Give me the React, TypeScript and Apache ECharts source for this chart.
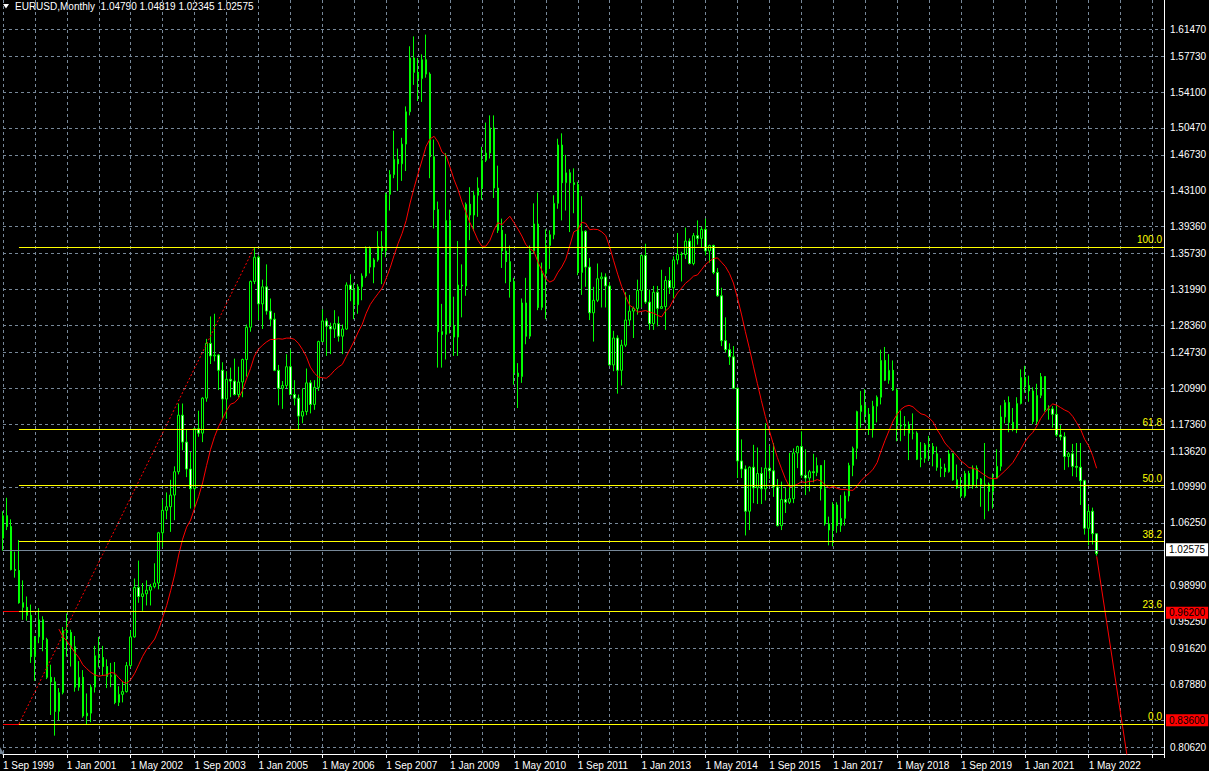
import React, { useEffect, useRef } from 'react';
import * as echarts from 'echarts';

// Monthly bars, first bar = Sep 1999, last bar = Jul 2022
const OPEN = [
  1.043, 1.068, 1.056, 1.008,
  1.007, 0.971, 0.966, 0.957, 0.911, 0.933, 0.952, 0.930, 0.888, 0.883, 0.850, 0.871,
  0.940, 0.938, 0.922, 0.877, 0.888, 0.845, 0.848, 0.877, 0.912, 0.910, 0.900, 0.889,
  0.890, 0.860, 0.869, 0.872, 0.901, 0.933, 0.988, 0.978, 0.981, 0.985, 0.989, 0.993,
  1.049, 1.074, 1.078, 1.091, 1.117, 1.180, 1.150, 1.120, 1.098, 1.165, 1.160, 1.199,
  1.260, 1.246, 1.247, 1.230, 1.198, 1.220, 1.218, 1.203, 1.217, 1.242, 1.278, 1.329,
  1.356, 1.304, 1.323, 1.296, 1.287, 1.230, 1.210, 1.213, 1.234, 1.203, 1.199, 1.179,
  1.184, 1.216, 1.192, 1.211, 1.262, 1.285, 1.279, 1.276, 1.282, 1.268, 1.276, 1.325,
  1.320, 1.303, 1.323, 1.335, 1.366, 1.345, 1.353, 1.368, 1.363, 1.426, 1.448, 1.465,
  1.460, 1.482, 1.518, 1.578, 1.562, 1.555, 1.576, 1.560, 1.468, 1.409, 1.273, 1.270,
  1.397, 1.280, 1.267, 1.325, 1.324, 1.415, 1.403, 1.425, 1.433, 1.464, 1.472, 1.500,
  1.433, 1.386, 1.363, 1.351, 1.329, 1.227, 1.223, 1.305, 1.268, 1.363, 1.393, 1.300,
  1.338, 1.369, 1.381, 1.416, 1.481, 1.439, 1.450, 1.439, 1.437, 1.339, 1.385, 1.345,
  1.294, 1.308, 1.332, 1.334, 1.324, 1.236, 1.266, 1.230, 1.258, 1.286, 1.296, 1.299,
  1.319, 1.358, 1.306, 1.282, 1.317, 1.299, 1.301, 1.330, 1.322, 1.353, 1.359, 1.359,
  1.374, 1.349, 1.380, 1.377, 1.387, 1.363, 1.369, 1.339, 1.313, 1.263, 1.253, 1.245,
  1.210, 1.129, 1.120, 1.073, 1.122, 1.099, 1.115, 1.098, 1.121, 1.118, 1.100, 1.057,
  1.086, 1.083, 1.087, 1.138, 1.145, 1.113, 1.110, 1.117, 1.116, 1.124, 1.098, 1.059,
  1.052, 1.080, 1.057, 1.065, 1.090, 1.124, 1.143, 1.184, 1.191, 1.181, 1.164, 1.190,
  1.200, 1.241, 1.219, 1.230, 1.208, 1.169, 1.168, 1.169, 1.160, 1.160, 1.131, 1.132,
  1.147, 1.145, 1.137, 1.122, 1.121, 1.117, 1.137, 1.108, 1.099, 1.090, 1.115, 1.102,
  1.121, 1.109, 1.103, 1.103, 1.095, 1.110, 1.123, 1.178, 1.194, 1.172, 1.165, 1.193,
  1.222, 1.213, 1.207, 1.173, 1.202, 1.223, 1.186, 1.187, 1.181, 1.158, 1.156, 1.134,
  1.137, 1.123, 1.122, 1.107, 1.054, 1.073, 1.0479,
];
const HIGH = [
  1.073, 1.088, 1.064, 1.028,
  1.041, 0.996, 0.978, 0.969, 0.934, 0.965, 0.956, 0.932, 0.902, 0.888, 0.876, 0.944,
  0.959, 0.941, 0.934, 0.906, 0.896, 0.870, 0.880, 0.923, 0.933, 0.923, 0.908, 0.904,
  0.905, 0.878, 0.884, 0.905, 0.940, 0.998, 1.018, 0.993, 0.996, 0.992, 1.015, 1.050,
  1.086, 1.094, 1.108, 1.123, 1.193, 1.193, 1.164, 1.139, 1.165, 1.185, 1.200, 1.265,
  1.290, 1.293, 1.248, 1.239, 1.229, 1.233, 1.243, 1.234, 1.243, 1.281, 1.330, 1.367,
  1.358, 1.331, 1.348, 1.310, 1.294, 1.236, 1.218, 1.248, 1.253, 1.219, 1.203, 1.210,
  1.232, 1.219, 1.219, 1.263, 1.298, 1.288, 1.283, 1.297, 1.290, 1.281, 1.328, 1.337,
  1.327, 1.326, 1.338, 1.368, 1.368, 1.355, 1.385, 1.385, 1.428, 1.453, 1.497, 1.477,
  1.489, 1.524, 1.591, 1.602, 1.578, 1.582, 1.604, 1.562, 1.487, 1.418, 1.304, 1.472,
  1.409, 1.312, 1.374, 1.348, 1.417, 1.434, 1.430, 1.445, 1.479, 1.506, 1.514, 1.514,
  1.458, 1.399, 1.382, 1.369, 1.333, 1.238, 1.310, 1.333, 1.369, 1.416, 1.428, 1.350,
  1.387, 1.386, 1.425, 1.488, 1.494, 1.470, 1.454, 1.455, 1.440, 1.424, 1.386, 1.355,
  1.323, 1.349, 1.339, 1.338, 1.328, 1.274, 1.269, 1.264, 1.317, 1.314, 1.301, 1.331,
  1.359, 1.371, 1.320, 1.324, 1.324, 1.342, 1.335, 1.345, 1.357, 1.383, 1.362, 1.389,
  1.377, 1.383, 1.397, 1.390, 1.399, 1.370, 1.370, 1.344, 1.322, 1.289, 1.260, 1.257,
  1.211, 1.153, 1.124, 1.123, 1.147, 1.144, 1.122, 1.171, 1.146, 1.149, 1.109, 1.106,
  1.099, 1.138, 1.143, 1.146, 1.162, 1.142, 1.119, 1.137, 1.133, 1.124, 1.130, 1.067,
  1.083, 1.083, 1.091, 1.095, 1.127, 1.145, 1.185, 1.207, 1.209, 1.188, 1.196, 1.202,
  1.253, 1.256, 1.248, 1.241, 1.210, 1.185, 1.179, 1.173, 1.182, 1.162, 1.150, 1.149,
  1.157, 1.149, 1.145, 1.132, 1.126, 1.141, 1.138, 1.125, 1.111, 1.118, 1.118, 1.124,
  1.124, 1.110, 1.149, 1.105, 1.115, 1.142, 1.191, 1.197, 1.201, 1.188, 1.200, 1.231,
  1.235, 1.224, 1.211, 1.215, 1.227, 1.223, 1.191, 1.190, 1.191, 1.169, 1.161, 1.139,
  1.148, 1.149, 1.149, 1.108, 1.079, 1.077, 1.04819,
];
const LOW = [
  1.029, 1.052, 1.007, 0.999,
  0.970, 0.952, 0.951, 0.904, 0.884, 0.926, 0.917, 0.886, 0.846, 0.823, 0.840, 0.869,
  0.911, 0.900, 0.872, 0.873, 0.843, 0.835, 0.838, 0.871, 0.899, 0.890, 0.876, 0.877,
  0.858, 0.856, 0.860, 0.871, 0.899, 0.932, 0.971, 0.962, 0.968, 0.968, 0.987, 0.986,
  1.033, 1.064, 1.050, 1.063, 1.114, 1.141, 1.111, 1.076, 1.077, 1.156, 1.150, 1.195,
  1.237, 1.240, 1.208, 1.176, 1.176, 1.200, 1.202, 1.200, 1.200, 1.223, 1.273, 1.326,
  1.286, 1.276, 1.292, 1.279, 1.229, 1.191, 1.187, 1.210, 1.202, 1.191, 1.164, 1.171,
  1.180, 1.182, 1.186, 1.207, 1.262, 1.246, 1.248, 1.266, 1.262, 1.248, 1.275, 1.307,
  1.287, 1.293, 1.308, 1.333, 1.338, 1.327, 1.351, 1.326, 1.356, 1.408, 1.444, 1.430,
  1.441, 1.452, 1.514, 1.548, 1.530, 1.529, 1.556, 1.444, 1.388, 1.233, 1.233, 1.242,
  1.271, 1.246, 1.246, 1.289, 1.313, 1.375, 1.385, 1.401, 1.420, 1.462, 1.466, 1.422,
  1.383, 1.344, 1.327, 1.311, 1.214, 1.188, 1.216, 1.259, 1.265, 1.360, 1.297, 1.297,
  1.287, 1.343, 1.376, 1.410, 1.397, 1.408, 1.384, 1.405, 1.336, 1.314, 1.323, 1.286,
  1.262, 1.306, 1.300, 1.300, 1.235, 1.229, 1.204, 1.213, 1.256, 1.280, 1.266, 1.292,
  1.300, 1.304, 1.275, 1.275, 1.279, 1.299, 1.275, 1.315, 1.310, 1.348, 1.329, 1.354,
  1.348, 1.347, 1.370, 1.367, 1.358, 1.350, 1.337, 1.312, 1.257, 1.250, 1.236, 1.209,
  1.110, 1.110, 1.046, 1.052, 1.082, 1.081, 1.081, 1.085, 1.109, 1.089, 1.056, 1.052,
  1.071, 1.081, 1.082, 1.121, 1.110, 1.091, 1.095, 1.105, 1.112, 1.085, 1.057, 1.035,
  1.034, 1.049, 1.050, 1.057, 1.084, 1.112, 1.131, 1.166, 1.172, 1.158, 1.155, 1.172,
  1.192, 1.218, 1.215, 1.207, 1.151, 1.151, 1.157, 1.130, 1.153, 1.130, 1.122, 1.127,
  1.129, 1.123, 1.118, 1.111, 1.111, 1.116, 1.107, 1.098, 1.088, 1.088, 1.098, 1.098,
  1.099, 1.078, 1.064, 1.073, 1.076, 1.110, 1.118, 1.171, 1.161, 1.162, 1.160, 1.192,
  1.205, 1.195, 1.170, 1.170, 1.199, 1.184, 1.175, 1.166, 1.156, 1.152, 1.119, 1.122,
  1.112, 1.111, 1.080, 1.047, 1.035, 1.036, 1.02345,
];
const CLOSE = [
  1.068, 1.056, 1.008, 1.007,
  0.971, 0.966, 0.957, 0.911, 0.933, 0.952, 0.930, 0.888, 0.883, 0.850, 0.871, 0.940,
  0.938, 0.922, 0.877, 0.888, 0.845, 0.848, 0.877, 0.912, 0.910, 0.900, 0.889, 0.890,
  0.860, 0.869, 0.872, 0.901, 0.933, 0.988, 0.978, 0.981, 0.985, 0.989, 0.993, 1.049,
  1.074, 1.078, 1.091, 1.117, 1.180, 1.150, 1.120, 1.098, 1.165, 1.160, 1.199, 1.260,
  1.246, 1.247, 1.230, 1.198, 1.220, 1.218, 1.203, 1.217, 1.242, 1.278, 1.329, 1.356,
  1.304, 1.323, 1.296, 1.287, 1.230, 1.210, 1.213, 1.234, 1.203, 1.199, 1.179, 1.184,
  1.216, 1.192, 1.211, 1.262, 1.285, 1.279, 1.276, 1.282, 1.268, 1.276, 1.325, 1.320,
  1.303, 1.323, 1.335, 1.366, 1.345, 1.353, 1.368, 1.363, 1.426, 1.448, 1.465, 1.460,
  1.482, 1.518, 1.578, 1.562, 1.555, 1.576, 1.560, 1.468, 1.409, 1.273, 1.270, 1.397,
  1.280, 1.267, 1.325, 1.324, 1.415, 1.403, 1.425, 1.433, 1.464, 1.472, 1.500, 1.433,
  1.386, 1.363, 1.351, 1.329, 1.227, 1.223, 1.305, 1.268, 1.363, 1.393, 1.300, 1.338,
  1.369, 1.381, 1.416, 1.481, 1.439, 1.450, 1.439, 1.437, 1.339, 1.385, 1.345, 1.294,
  1.308, 1.332, 1.334, 1.324, 1.236, 1.266, 1.230, 1.258, 1.286, 1.296, 1.299, 1.319,
  1.358, 1.306, 1.282, 1.317, 1.299, 1.301, 1.330, 1.322, 1.353, 1.359, 1.359, 1.374,
  1.349, 1.380, 1.377, 1.387, 1.363, 1.369, 1.339, 1.313, 1.263, 1.253, 1.245, 1.210,
  1.129, 1.120, 1.073, 1.122, 1.099, 1.115, 1.098, 1.121, 1.118, 1.100, 1.057, 1.086,
  1.083, 1.087, 1.138, 1.145, 1.113, 1.110, 1.117, 1.116, 1.124, 1.098, 1.059, 1.052,
  1.080, 1.057, 1.065, 1.090, 1.124, 1.143, 1.184, 1.191, 1.181, 1.164, 1.190, 1.200,
  1.241, 1.219, 1.230, 1.208, 1.169, 1.168, 1.169, 1.160, 1.160, 1.131, 1.132, 1.147,
  1.145, 1.137, 1.122, 1.121, 1.117, 1.137, 1.108, 1.099, 1.090, 1.115, 1.102, 1.121,
  1.109, 1.103, 1.103, 1.095, 1.110, 1.123, 1.178, 1.194, 1.172, 1.165, 1.193, 1.222,
  1.213, 1.207, 1.173, 1.202, 1.223, 1.186, 1.187, 1.181, 1.158, 1.156, 1.134, 1.137,
  1.123, 1.122, 1.107, 1.054, 1.073, 1.048, 1.02575,
];

// Axis labels
const X_TICK_LABELS = [
  '1 Sep 1999', '1 Jan 2001', '1 May 2002', '1 Sep 2003', '1 Jan 2005', '1 May 2006',
  '1 Sep 2007', '1 Jan 2009', '1 May 2010', '1 Sep 2011', '1 Jan 2013', '1 May 2014',
  '1 Sep 2015', '1 Jan 2017', '1 May 2018', '1 Sep 2019', '1 Jan 2021', '1 May 2022',
];
const Y_TICK_VALUES = [
  1.6147, 1.5773, 1.541, 1.5047, 1.4673, 1.431, 1.3936, 1.3573, 1.3199, 1.2836, 1.2473,
  1.2099, 1.1736, 1.1362, 1.0999, 1.0625, 1.0262, 0.9899, 0.9525, 0.9162, 0.8788, 0.8425,
  0.8062,
];

// Objects on the chart
const MA_PERIOD = 14;
const FIB_LEVELS = [100.0, 61.8, 50.0, 38.2, 23.6, 0.0];
const FIB_LOW = 0.836;
const FIB_HIGH = 1.3674;
const FIB_START_BAR = 4;
const FIB_END_BAR = 63;
const RED_LEVELS = [0.962, 0.836];
const BID = 1.02575;
const TRENDLINE = [[274, 1.0227], [282, 0.7894]];
const HEADER = 'EURUSD,Monthly  1.04790 1.04819 1.02345 1.02575';

const X_LABEL_STEP = 16;
const X_GRID_STEP = 8;
const X_MIN = 0;
const X_MAX = 290.875;
const Y_MIN = 0.80253;
const Y_MAX = 1.64255;

const FONT = '"Liberation Sans", Arial, sans-serif';
const GRID_COLOR = '#778899';
const LIME = '#00ff00';

export default function App() {
  const ref = useRef<HTMLDivElement>(null);

  useEffect(() => {
    if (!ref.current) return;
    const chart = echarts.init(ref.current, null, { renderer: 'svg' });

    const candles = OPEN.map((o, i) => [i, o, CLOSE[i], LOW[i], HIGH[i]]);
    const ma: number[][] = [];
    for (let i = MA_PERIOD; i < CLOSE.length; i++) {
      let s = 0;
      for (let k = i - MA_PERIOD + 1; k <= i; k++) s += CLOSE[k];
      ma.push([i, s / MA_PERIOD]);
    }
    const fibPrice = (lv: number) => FIB_LOW + (lv / 100) * (FIB_HIGH - FIB_LOW);

    const helper = (name: string, z: number, markLine: any) => ({
      name,
      type: 'line',
      xAxisIndex: 0,
      yAxisIndex: 0,
      z,
      silent: true,
      data: [[0, CLOSE[0]]],
      symbol: 'none',
      lineStyle: { opacity: 0 },
      markLine: { silent: true, symbol: ['none', 'none'], animation: false, z, ...markLine },
    });

    const labelText = { fontFamily: FONT, fontSize: 10 };

    chart.setOption({
      animation: false,
      backgroundColor: '#000000',
      grid: { left: 0.5, top: 0, width: 1163.5, height: 754, containLabel: false },
      xAxis: [
        {
          type: 'value',
          min: X_MIN,
          max: X_MAX,
          interval: X_GRID_STEP,
          axisLine: { show: false },
          axisTick: { show: false },
          axisLabel: { show: false },
          splitLine: { show: true, lineStyle: { color: GRID_COLOR, type: [3, 3], width: 1 } },
        },
        {
          type: 'value',
          position: 'bottom',
          min: X_MIN,
          max: X_MAX,
          interval: X_LABEL_STEP,
          axisLine: { show: true, onZero: false, lineStyle: { color: '#ffffff', width: 1 } },
          axisTick: { show: true, length: 4, lineStyle: { color: '#ffffff' } },
          splitLine: { show: false },
          axisLabel: {
            show: true,
            color: '#ffffff',
            ...labelText,
            align: 'left',
            margin: 6,
            formatter: (v: number) => {
              const k = Math.round(v / X_LABEL_STEP);
              if (Math.abs(v / X_LABEL_STEP - k) > 1e-6) return '';
              return X_TICK_LABELS[k] ?? '';
            },
          },
        },
      ],
      yAxis: {
        type: 'value',
        position: 'right',
        min: Y_MIN,
        max: Y_MAX,
        axisLine: { show: true, onZero: false, lineStyle: { color: '#ffffff', width: 1 } },
        axisTick: { show: false },
        axisLabel: { show: false },
        splitLine: { show: false },
      },
      graphic: [
        {
          type: 'polygon',
          shape: { points: [[3, 4], [9, 4], [6, 8.5]] },
          style: { fill: '#ffffff' },
        },
        {
          type: 'text',
          x: 15,
          y: 1,
          style: { text: HEADER, fill: '#ffffff', font: `10px ${FONT}`, verticalAlign: 'top' },
        },
        {
          type: 'polygon',
          shape: { points: [[0, 747], [4, 754], [0, 754]] },
          style: { fill: GRID_COLOR },
        },
      ],
      series: [
        helper('grid', 1, {
          lineStyle: { color: GRID_COLOR, type: [3, 3], width: 1 },
          label: { show: true, position: 'end', distance: 6, color: '#ffffff', ...labelText, formatter: '{b}' },
          data: Y_TICK_VALUES.map((v) => ({ yAxis: v, name: v.toFixed(5) })),
        }),
        {
          name: 'EURUSD',
          type: 'candlestick',
          xAxisIndex: 0,
          yAxisIndex: 0,
          z: 3,
          barWidth: 2,
          encode: { x: 0, y: [1, 2, 3, 4] },
          data: candles,
          itemStyle: {
            color: '#000000',
            color0: '#ffffff',
            borderColor: LIME,
            borderColor0: LIME,
            borderColorDoji: LIME,
            borderWidth: 1,
          },
        },
        {
          name: 'MA',
          type: 'line',
          z: 4,
          data: ma,
          symbol: 'none',
          silent: true,
          lineStyle: { color: '#ff0000', width: 1 },
        },
        {
          name: 'FiboTrend',
          type: 'line',
          z: 4,
          data: [[FIB_START_BAR, FIB_LOW], [FIB_END_BAR, FIB_HIGH]],
          symbol: 'none',
          silent: true,
          lineStyle: { color: '#ff0000', width: 1, type: [2, 2] },
        },
        {
          name: 'Trendline',
          type: 'line',
          z: 4,
          data: TRENDLINE,
          symbol: 'none',
          silent: true,
          lineStyle: { color: '#ff0000', width: 1 },
        },
        // red horizontal lines: visible only left of the Fibonacci object
        helper('redLines', 5, {
          lineStyle: { color: '#ff0000', type: 'solid', width: 1 },
          label: { show: false },
          data: RED_LEVELS.map((v) => [{ coord: [X_MIN, v] }, { coord: [FIB_START_BAR, v] }]),
        }),
        helper('fib', 6, {
          lineStyle: { color: '#ffff00', type: 'solid', width: 1 },
          label: {
            show: true,
            position: 'insideEndTop',
            distance: [2, 2],
            color: '#ffff00',
            ...labelText,
            formatter: '{b}',
          },
          data: FIB_LEVELS.map((lv) => [
            { coord: [FIB_START_BAR, fibPrice(lv)], name: lv.toFixed(1) },
            { coord: [X_MAX, fibPrice(lv)] },
          ]),
        }),
        // price tags of the red lines on the price scale
        helper('redTags', 7, {
          lineStyle: { color: 'rgba(0,0,0,0)', type: 'solid', width: 1 },
          label: {
            show: true,
            position: 'end',
            distance: 2,
            color: '#000000',
            backgroundColor: '#ff0000',
            padding: [1, 3, 1, 3],
            ...labelText,
            formatter: '{b}',
          },
          data: RED_LEVELS.map((v) => ({ yAxis: v, name: v.toFixed(5) })),
        }),
        helper('bid', 8, {
          lineStyle: { color: GRID_COLOR, type: 'solid', width: 1 },
          label: {
            show: true,
            position: 'end',
            distance: 2,
            color: '#000000',
            backgroundColor: '#ffffff',
            padding: [2, 3, 1, 3],
            ...labelText,
            formatter: '{b}',
          },
          data: [{ yAxis: BID, name: BID.toFixed(5) }],
        }),
      ],
    });

    return () => chart.dispose();
  }, []);

  return (
    <div
      ref={ref}
      style={{ position: 'fixed', left: 0, top: 0, width: 1209, height: 771, background: '#000' }}
    />
  );
}
